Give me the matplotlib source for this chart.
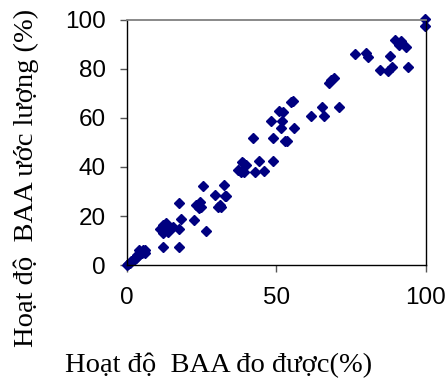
import matplotlib.pyplot as plt

# measured vs estimated BAA activity (%)
do_duoc = [0, 0.5, 1, 1.5, 2, 2.5, 3, 3.5, 4, 4.5, 5, 5.5, 6, 4, 6,
           12.1, 13.2, 11, 12.1, 13.8, 15.4, 17.4, 18, 12.1, 17.4, 17.4,
           22.3, 26.6, 23.2, 24.3, 24.9, 24.1, 29.3, 31, 33.2, 30.4, 25.4, 32.3,
           31.5, 32.7,
           38.6, 39.7, 38.2, 39.3, 44, 48.8, 42.7, 45.8, 37.1, 38.8, 42.1, 48.8,
           52.7, 53.4, 55.6, 54.9, 51, 52.1, 48.2, 51.9, 51.6, 56,
           61.6, 65.1, 66, 70.8, 68.2, 69.3, 67.7,
           76.2, 80.1, 80.7, 88.1, 84.7, 87.3, 88.7, 94.1,
           89.7, 91.6, 91, 93.4, 99.6, 99.6]
uoc_luong = [0, 0.5, 1, 1.5, 2, 2, 3, 4, 4, 5, 5, 6, 6, 6, 5,
             16.3, 17, 14.6, 13.2, 13.6, 15.6, 14.6, 18.7, 7.5, 7.5, 25.4,
             18.4, 14, 24.5, 25.8, 23.8, 23.1, 28.6, 24.5, 28.2, 23.8, 32.2, 32.7,
             23.8, 28.2,
             42.2, 40.8, 38.1, 38.1, 42.6, 42.6, 38.1, 38.5, 38.8, 41.5, 51.7, 51.7,
             50.7, 50.7, 67.1, 66.7, 63, 62.6, 58.9, 58.8, 55.8, 55.8,
             60.8, 64.6, 60.8, 64.6, 75.5, 76.2, 74.4,
             86.2, 86.4, 84.8, 85.2, 79.6, 79.2, 80.7, 80.7,
             91.8, 91.4, 89.8, 89.1, 100.3, 97.7]

fig = plt.figure(figsize=(4.47, 3.83), dpi=100)
ax = fig.add_axes([0.284, 0.308, 0.669, 0.640])

ax.plot(do_duoc, uoc_luong, "D", color="#000080", markersize=5.5, clip_on=False)

ax.set_xlim(0, 100)
ax.set_ylim(0, 100)
ax.set_xticks([0, 50, 100])
ax.set_yticks([0, 20, 40, 60, 80, 100])
ax.tick_params(labelsize=17.5, length=5, width=1, color="#555555")
for lab in ax.get_xticklabels() + ax.get_yticklabels():
    lab.set_family("Liberation Sans")
ax.tick_params(axis="x", pad=11)
ax.tick_params(axis="y", pad=10)

ax.spines["top"].set_color("#808080")
ax.spines["top"].set_linewidth(1.3)
for s in ["left", "right", "bottom"]:
    ax.spines[s].set_color("black")
    ax.spines[s].set_linewidth(1)

fig.text(0.488, 0.045, "Hoạt độ  BAA đo được(%)", family="Liberation Serif",
         fontsize=20.5, ha="center", va="center")
fig.text(0.058, 0.535, "Hoạt độ  BAA ước lượng (%)", family="Liberation Serif",
         fontsize=20.5, ha="center", va="center", rotation=90)

fig.savefig("out.png", dpi=100)
